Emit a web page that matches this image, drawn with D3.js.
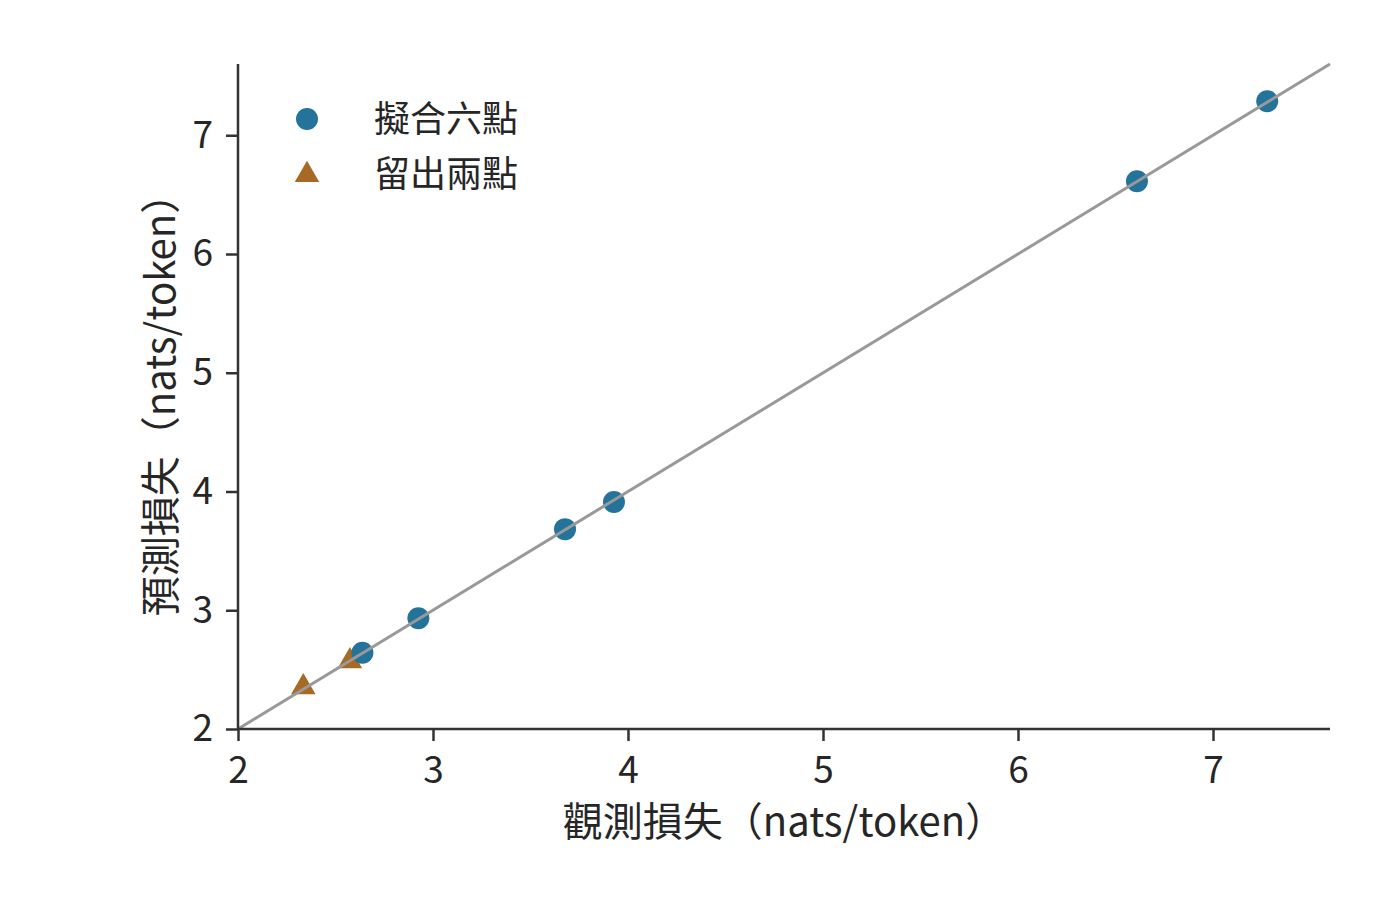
<!DOCTYPE html>
<html lang="zh-Hant">
    <head>
        <meta charset="utf-8">
        <title>觀測損失 vs 預測損失</title>
        <script src="https://d3js.org/d3.v7.min.js"></script>
        <style type="text/css">
            body{ margin: 0; background: white; }
            text{ font-family: "Noto Sans CJK TC", "Noto Sans", sans-serif; fill: #262626; }
            .tick text{ font-size: 37px; }
            .axis-title{ font-size: 40px; }
            .legend text{ font-size: 36px; }
        </style>
    </head>
    <body>
        <script type="text/javascript">

            // fitted six points (observed, predicted)
            const fitObserved  = [2.638, 2.925, 3.677, 3.928, 6.610, 7.278];
            const fitPredicted = [2.642, 2.932, 3.683, 3.911, 6.613, 7.286];
            // two held-out points
            const holdObserved  = [2.335, 2.574];
            const holdPredicted = [2.360, 2.580];

            const ticks = [2, 3, 4, 5, 6, 7];
            const legendLabels = ["擬合六點", "留出兩點"];

            const w = 1400;
            const h = 912;
            const blue = "#23739a";
            const orange = "#a66a25";

            const x = d3.scaleLinear().domain([2, 7.6]).range([238, 1330]);
            const y = d3.scaleLinear().domain([2, 7.6]).range([729, 64]);

            const svg = d3.select("body")
                    .append("svg")
                    .attr("width", w)
                    .attr("height", h);

            //points
            const fitData = fitObserved.map((d, i) => ({x: d, y: fitPredicted[i]}));
            const holdData = holdObserved.map((d, i) => ({x: d, y: holdPredicted[i]}));

            const tri = d3.symbol().type(d3.symbolTriangle).size(260);

            svg.selectAll("path.hold")
               .data(holdData)
               .enter()
               .append("path")
               .attr("class", "hold")
               .attr("d", tri)
               .attr("transform", d => "translate(" + x(d.x) + "," + (y(d.y) + 1) + ")")
               .attr("fill", orange);

            svg.selectAll("circle.fit")
               .data(fitData)
               .enter()
               .append("circle")
               .attr("class", "fit")
               .attr("cx", d => x(d.x))
               .attr("cy", d => y(d.y))
               .attr("r", 11)
               .attr("fill", blue);

            //identity line on top
            svg.append("line")
               .attr("x1", x(2)).attr("y1", y(2))
               .attr("x2", x(7.6)).attr("y2", y(7.6))
               .attr("stroke", "#999")
               .attr("stroke-width", 3);

            //axes
            const xAxis = svg.append("g")
                .attr("transform", "translate(0," + y(2) + ")")
                .call(d3.axisBottom(x).tickValues(ticks).tickSize(12).tickPadding(16).tickFormat(d3.format("d")));
            const yAxis = svg.append("g")
                .attr("transform", "translate(" + x(2) + ",0)")
                .call(d3.axisLeft(y).tickValues(ticks).tickSize(12).tickPadding(13).tickFormat(d3.format("d")));

            [xAxis, yAxis].forEach(g => {
                g.select(".domain").attr("stroke", "#333").attr("stroke-width", 2.5);
                g.selectAll(".tick line").attr("stroke", "#333").attr("stroke-width", 2.5);
                g.selectAll(".tick text").attr("fill", "#262626");
            });
            // no outer ticks: redraw the domain as plain lines
            xAxis.select(".domain").attr("d", "M" + x(2) + ",0H" + x(7.6));
            yAxis.select(".domain").attr("d", "M0," + y(2) + "V" + y(7.6));

            //axis titles
            svg.append("text")
               .attr("class", "axis-title")
               .attr("x", 784)
               .attr("y", 836)
               .attr("text-anchor", "middle")
               .text("觀測損失（nats/token）");

            svg.append("text")
               .attr("class", "axis-title")
               .attr("transform", "translate(175,395) rotate(-90)")
               .attr("text-anchor", "middle")
               .text("預測損失（nats/token）");

            //legend
            const legend = svg.append("g").attr("class", "legend");
            legend.append("circle")
                  .attr("cx", 307).attr("cy", 119).attr("r", 11)
                  .attr("fill", blue);
            legend.append("path")
                  .attr("d", tri)
                  .attr("transform", "translate(307,175)")
                  .attr("fill", orange);
            legend.selectAll("text")
                  .data(legendLabels)
                  .enter()
                  .append("text")
                  .attr("x", 374)
                  .attr("y", (d, i) => 119 + i * 55)
                  .attr("dy", "0.35em")
                  .text(d => d);

        </script>
    </body>
</html>
